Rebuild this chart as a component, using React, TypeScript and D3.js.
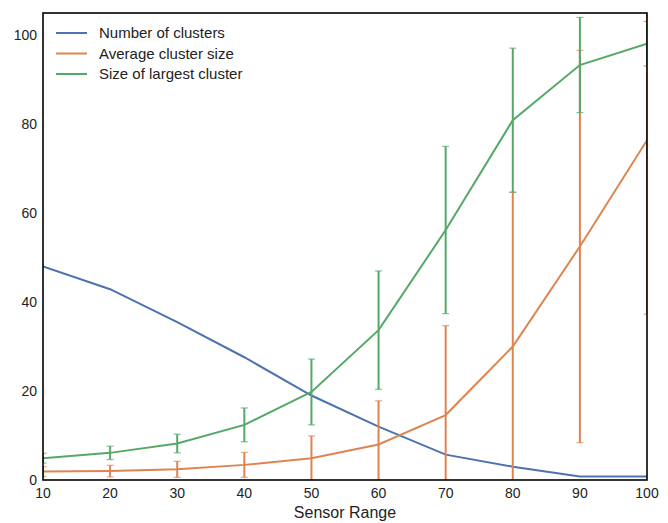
import React from "react";
import * as d3 from "d3";

const sensorRange = [10, 20, 30, 40, 50, 60, 70, 80, 90, 100];
const numClusters = [48, 42.9, 35.5, 27.6, 19, 12, 5.7, 3, 0.8, 0.8];
const avgSize = [1.9, 2.0, 2.4, 3.4, 4.9, 8.0, 14.6, 30, 52.5, 76.4];
const avgSizeErr = [1.1, 1.3, 1.8, 2.8, 5.0, 9.8, 20.1, 34.7, 44.1, 39.1];
const largest = [4.9, 6.1, 8.2, 12.4, 19.8, 33.7, 56.2, 80.9, 93.3, 98.1];
const largestErr = [1.1, 1.5, 2.1, 3.8, 7.4, 13.3, 18.8, 16.2, 10.7, 5.0];
const xTicks = [10, 20, 30, 40, 50, 60, 70, 80, 90, 100];
const yTicks = [0, 20, 40, 60, 80, 100];

const W = 668, H = 523;
const L = 43, R = 647, T = 13, B = 480;

const series = [
  { name: "Number of clusters", color: "#4C72B0", values: numClusters, err: null as number[] | null },
  { name: "Average cluster size", color: "#DD8452", values: avgSize, err: avgSizeErr },
  { name: "Size of largest cluster", color: "#55A868", values: largest, err: largestErr },
];

export default function App() {
  const x = d3.scaleLinear().domain([10, 100]).range([L, R]);
  const y = d3.scaleLinear().domain([0, 105]).range([B, T]);
  const line = d3.line<number>().x((_, i) => x(sensorRange[i])).y((v) => y(v));
  const font = "'Liberation Sans', Arial, sans-serif";
  return (
    <svg width={W} height={H} style={{ position: "absolute", left: 0, top: 0, background: "#fff" }} fontFamily={font}>
      <defs>
        <clipPath id="plot">
          <rect x={L} y={T} width={R - L} height={B - T} />
        </clipPath>
      </defs>
      <g clipPath="url(#plot)">
        {series.map((s) => (
          <g key={s.name}>
            <path d={line(s.values) || ""} fill="none" stroke={s.color} strokeWidth={2} />
            {s.err &&
              s.values.map((v, i) => {
                const cx = x(sensorRange[i]);
                const lo = y(v - s.err![i]);
                const hi = y(v + s.err![i]);
                return (
                  <g key={i}>
                    <line x1={cx} x2={cx} y1={lo} y2={hi} stroke={s.color} strokeWidth={2} />
                    <line x1={cx - 3.5} x2={cx + 3.5} y1={lo} y2={lo} stroke={s.color} strokeWidth={1.2} opacity={0.7} />
                    <line x1={cx - 3.5} x2={cx + 3.5} y1={hi} y2={hi} stroke={s.color} strokeWidth={1.2} opacity={0.7} />
                  </g>
                );
              })}
          </g>
        ))}
      </g>
      <rect x={L} y={T} width={R - L} height={B - T} fill="none" stroke="#000" strokeWidth={1.6} />
      {yTicks.map((t) => (
        <text key={t} x={L - 6} y={y(t) + 5} textAnchor="end" fontSize={14} fill="#222">
          {t}
        </text>
      ))}
      {xTicks.map((t) => (
        <text key={t} x={x(t)} y={498} textAnchor="middle" fontSize={14} fill="#222">
          {t}
        </text>
      ))}
      <text x={(L + R) / 2} y={518} textAnchor="middle" fontSize={16} fill="#222">
        Sensor Range
      </text>
      {series.map((s, i) => {
        const ly = 33 + i * 20.5;
        return (
          <g key={s.name}>
            <line x1={56} x2={87} y1={ly} y2={ly} stroke={s.color} strokeWidth={2} />
            <text x={99} y={ly + 5} fontSize={15} fill="#222">
              {s.name}
            </text>
          </g>
        );
      })}
    </svg>
  );
}
